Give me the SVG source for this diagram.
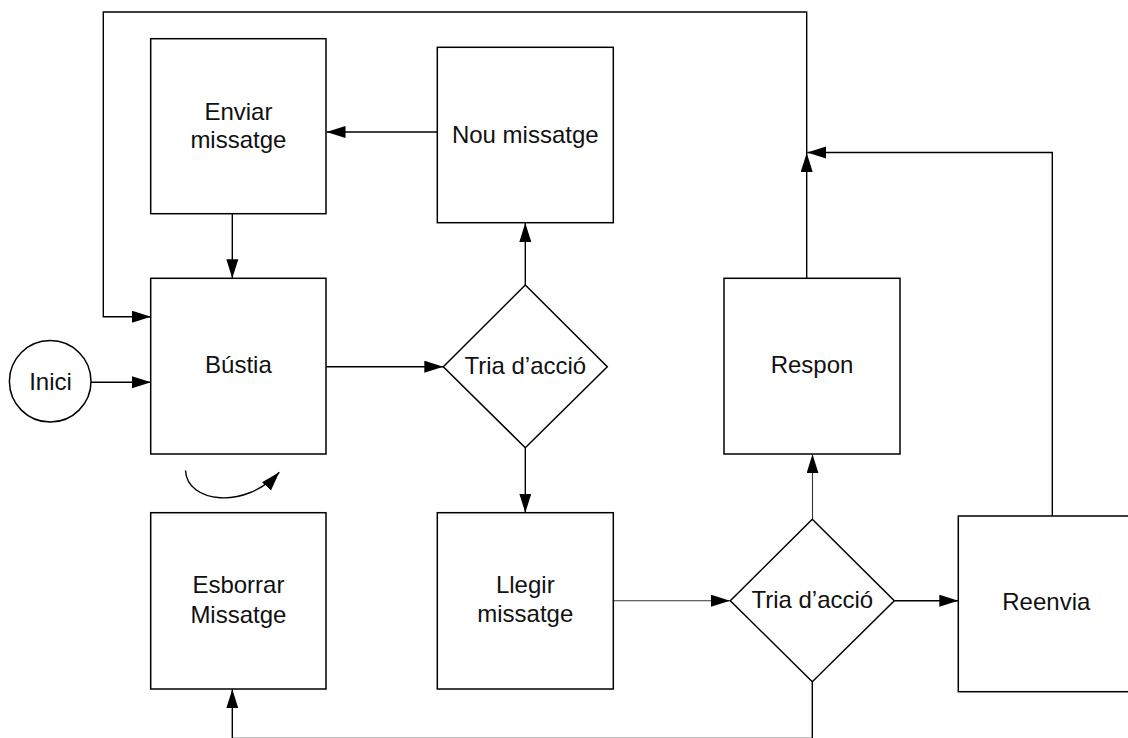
<svg xmlns="http://www.w3.org/2000/svg" width="1128" height="738" viewBox="0 0 1128 738">
  <defs>
    <style>
      .box { fill: #fff; stroke: #000; stroke-width: 1.5; }
      .lbl { font-family: "Liberation Sans", Arial, sans-serif; font-size: 24px; fill: #111; text-anchor: middle; }
      .wire { fill: none; stroke: #000; stroke-width: 1.4; }
      .thin { fill: none; stroke: #333; stroke-width: 1.1; }
    </style>
    <marker id="head" markerUnits="userSpaceOnUse" markerWidth="21" markerHeight="13" refX="19" refY="6" orient="auto">
      <path d="M0,0 L19,6 L0,12 z" fill="#000"/>
    </marker>
  </defs>
  <rect width="1128" height="738" fill="#fff"/>

  <g id="connectors">
    <!-- Inici -> Bústia -->
    <path class="wire" d="M91,382.3 H151" marker-end="url(#head)"/>
    <!-- Enviar -> Bústia -->
    <path class="wire" d="M232.3,214 V278.3" marker-end="url(#head)"/>
    <!-- Nou missatge -> Enviar -->
    <path class="wire" d="M437.3,132 H326.5" marker-end="url(#head)"/>
    <!-- Bústia -> decision -->
    <path class="wire" d="M326,366.7 H443.3" marker-end="url(#head)"/>
    <!-- decision -> Nou missatge -->
    <path class="wire" d="M525.3,285 V223" marker-end="url(#head)"/>
    <!-- decision -> Llegir -->
    <path class="wire" d="M525.3,447.7 V512.7" marker-end="url(#head)"/>
    <!-- Llegir -> second decision -->
    <path class="thin" d="M613.3,600.7 H730" marker-end="url(#head)"/>
    <!-- second decision -> Respon -->
    <path class="thin" d="M812.5,519.3 V454.3" marker-end="url(#head)"/>
    <!-- second decision -> Reenvia -->
    <path class="wire" d="M894.3,600.7 H958.3" marker-end="url(#head)"/>
    <!-- Respon up to the return line -->
    <path class="wire" d="M806.7,278.3 V153" marker-end="url(#head)"/>
    <!-- Reenvia joins the return line -->
    <path class="wire" d="M1052.3,516 V152.5 H807.3" marker-end="url(#head)"/>
    <!-- return line back to Bústia -->
    <path class="wire" d="M806.7,153 V12 H103.3 V316.7 H151" marker-end="url(#head)"/>
    <!-- second decision -> Esborrar, along the bottom edge -->
    <path class="wire" d="M812.3,681.7 V738.4 H232.3 V689.3" marker-end="url(#head)"/>
    <!-- delete returns to the mailbox -->
    <path class="wire" d="M185.5,470.5 C187,503 245,510 279.3,472.3" marker-end="url(#head)"/>
  </g>

  <g id="inici">
    <circle class="box" cx="50.2" cy="381.3" r="40.8"/>
    <text class="lbl" x="50.5" y="390">Inici</text>
  </g>

  <g id="enviar">
    <rect class="box" x="150.7" y="38.7" width="175.3" height="175"/>
    <text class="lbl" x="238.4" y="119.5">Enviar</text>
    <text class="lbl" x="238.4" y="148.3">missatge</text>
  </g>

  <g id="bustia">
    <rect class="box" x="150.7" y="278.3" width="175.3" height="175.7"/>
    <text class="lbl" x="238.4" y="373.3">Bústia</text>
  </g>

  <g id="esborrar">
    <rect class="box" x="150.7" y="512.7" width="175.3" height="176.3"/>
    <text class="lbl" x="238.4" y="593.3">Esborrar</text>
    <text class="lbl" x="238.4" y="622.5">Missatge</text>
  </g>

  <g id="nou">
    <rect class="box" x="437.3" y="47.3" width="176" height="175.4"/>
    <text class="lbl" x="525.3" y="143.3">Nou missatge</text>
  </g>

  <g id="tria1">
    <path class="box" d="M525.3,285 L607.3,366.7 L525.3,447.7 L443.3,366.7 z"/>
    <text class="lbl" x="525.3" y="373.5">Tria d’acció</text>
  </g>

  <g id="llegir">
    <rect class="box" x="437.3" y="512.7" width="176" height="176.3"/>
    <text class="lbl" x="525.3" y="593.3">Llegir</text>
    <text class="lbl" x="525.3" y="622.3">missatge</text>
  </g>

  <g id="respon">
    <rect class="box" x="724" y="278.3" width="176" height="175.7"/>
    <text class="lbl" x="812" y="373.3">Respon</text>
  </g>

  <g id="tria2">
    <path class="box" d="M812.3,519.3 L894.3,600.7 L812.3,681.7 L730.3,600.7 z"/>
    <text class="lbl" x="812.3" y="607.5">Tria d’acció</text>
  </g>

  <g id="reenvia">
    <rect class="box" x="958.3" y="516" width="176" height="175.7"/>
    <text class="lbl" x="1046.3" y="610">Reenvia</text>
  </g>
</svg>
